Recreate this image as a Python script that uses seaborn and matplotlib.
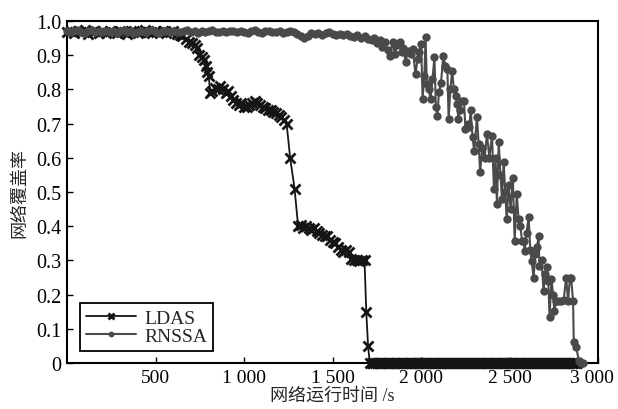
import matplotlib
matplotlib.use("Agg")
import matplotlib.pyplot as plt
import matplotlib.transforms as mtransforms
import pandas as pd
import seaborn as sns

# LDAS coverage vs run time
ldas_t = [0, 20, 40, 60, 80, 100, 120, 140, 160, 180, 200, 220, 240, 260, 280, 300,
          320, 340, 360, 380, 400, 420, 440, 460, 480, 500, 520, 540, 560, 580, 600, 620, 640,
          650, 670, 690, 705, 720, 735, 748, 762, 776, 786, 793, 800, 809, 820, 835, 850, 865,
          880, 895, 910, 925, 940, 955, 970, 985, 1000, 1015, 1030, 1045, 1060, 1075, 1090,
          1105, 1120, 1135, 1150, 1165, 1180, 1195, 1210, 1225, 1240, 1260, 1285, 1305, 1320,
          1335, 1350, 1365, 1380, 1395, 1410, 1425, 1440, 1455, 1470, 1485, 1500, 1515, 1530,
          1545, 1560, 1575, 1590, 1605, 1620, 1635, 1650, 1665, 1680, 1690, 1700, 1710,
          1720, 1730, 1740, 1750, 1760, 1770, 1780, 1790, 1800, 1810, 1820, 1830, 1840, 1850,
          1860, 1870, 1880, 1890, 1900, 1910, 1920, 1930, 1940, 1950, 1960, 1970, 1980, 1990,
          2000, 2010, 2020, 2030, 2040, 2050, 2060, 2070, 2080, 2090, 2100, 2110, 2120, 2130,
          2140, 2150, 2160, 2170, 2180, 2190, 2200, 2210, 2220, 2230, 2240, 2250, 2260, 2270,
          2280, 2290, 2300, 2310, 2320, 2330, 2340, 2350, 2360, 2370, 2380, 2390, 2400, 2410,
          2420, 2430, 2440, 2450, 2460, 2470, 2480, 2490, 2500, 2510, 2520, 2530, 2540, 2550,
          2560, 2570, 2580, 2590, 2600, 2610, 2620, 2630, 2640, 2650, 2660, 2670, 2680, 2690,
          2700, 2710, 2720, 2730, 2740, 2750, 2760, 2770, 2780, 2790, 2800, 2810, 2820, 2830,
          2840, 2850, 2860, 2870, 2880]
ldas_cov = [0.968, 0.972, 0.965, 0.970, 0.967, 0.973, 0.962, 0.969, 0.971, 0.966, 0.970,
            0.964, 0.972, 0.968, 0.965, 0.971, 0.969, 0.963, 0.970, 0.972, 0.966, 0.969,
            0.973, 0.967, 0.964, 0.970, 0.968, 0.972, 0.966, 0.969, 0.971, 0.962, 0.960,
            0.955, 0.948, 0.940, 0.935, 0.930, 0.920, 0.900, 0.895, 0.885, 0.870, 0.850,
            0.840, 0.790, 0.795, 0.805, 0.800, 0.810, 0.800, 0.790, 0.795, 0.780, 0.770,
            0.760, 0.755, 0.760, 0.750, 0.750, 0.755, 0.760, 0.765, 0.760, 0.755, 0.750,
            0.745, 0.740, 0.740, 0.735, 0.730, 0.725, 0.720, 0.710, 0.700, 0.600, 0.510,
            0.400, 0.405, 0.395, 0.400, 0.395, 0.390, 0.395, 0.385, 0.380, 0.375, 0.370,
            0.370, 0.360, 0.355, 0.350, 0.340, 0.330, 0.325, 0.330, 0.325, 0.305, 0.300,
            0.300, 0.298, 0.300, 0.300, 0.150, 0.050, 0.0] + [0.0] * 117

# RNSSA coverage vs run time
rnssa_t = [0, 20, 40, 60, 80, 100, 120, 140, 160, 180, 200, 220, 240, 260, 280, 300,
           320, 340, 360, 380, 400, 420, 440, 460, 480, 500, 520, 540, 560, 580, 600, 620,
           640, 660, 680, 700, 720, 740, 760, 780, 800, 820, 840, 860, 880, 900, 920, 940,
           960, 980, 1000, 1020, 1040, 1060, 1080, 1100, 1120, 1140, 1160, 1180, 1200, 1220,
           1240, 1260, 1280, 1300, 1320, 1340, 1360, 1380, 1400, 1420, 1440, 1460, 1480, 1500,
           1520, 1540, 1560, 1580, 1600, 1620, 1640, 1660, 1680, 1700,
           1720, 1735, 1750, 1765, 1780, 1795, 1810, 1822, 1839, 1850, 1865, 1878, 1890,
           1900, 1912, 1925, 1940, 1952, 1968, 1980, 1990, 2000, 2008, 2018, 2025, 2032,
           2042, 2053, 2064, 2075, 2083, 2092, 2100, 2112, 2125, 2136, 2148, 2155, 2165,
           2175, 2185, 2195, 2203, 2210, 2220, 2230, 2242, 2250, 2262, 2272, 2280, 2290,
           2300, 2315, 2325, 2333, 2345, 2358, 2372, 2385, 2400, 2411, 2420, 2428, 2438,
           2448, 2456, 2466, 2475, 2483, 2494, 2505, 2518, 2528, 2540, 2550, 2560, 2570,
           2578, 2585, 2595, 2607, 2616, 2624, 2635, 2645, 2655, 2663, 2668, 2680, 2691,
           2700, 2708, 2718, 2725, 2736, 2745, 2752, 2763, 2775, 2790, 2805, 2819, 2830,
           2840, 2847, 2858, 2862, 2875, 2892, 2905, 2915]
rnssa_cov = [0.972, 0.968, 0.970, 0.974, 0.969, 0.966, 0.971, 0.973, 0.968, 0.970, 0.967,
             0.972, 0.969, 0.971, 0.966, 0.970, 0.973, 0.968, 0.970, 0.965, 0.969, 0.972,
             0.967, 0.971, 0.974, 0.969, 0.966, 0.970, 0.972, 0.968, 0.971, 0.969, 0.967,
             0.970, 0.973, 0.969, 0.971, 0.966, 0.972, 0.968, 0.970, 0.974, 0.969, 0.967,
             0.971, 0.968, 0.972, 0.970, 0.968, 0.972, 0.969, 0.966, 0.971, 0.973, 0.968,
             0.965, 0.970, 0.972, 0.967, 0.969, 0.971, 0.966, 0.968, 0.970, 0.967, 0.963,
             0.955, 0.950, 0.955, 0.965, 0.962, 0.966, 0.960, 0.964, 0.968, 0.962, 0.959,
             0.963, 0.958, 0.961, 0.957, 0.952, 0.958, 0.950, 0.955, 0.948,
             0.945, 0.950, 0.935, 0.945, 0.925, 0.940, 0.915, 0.898, 0.938, 0.905, 0.930,
             0.938, 0.910, 0.920, 0.880, 0.912, 0.905, 0.918, 0.845, 0.890, 0.909, 0.933,
             0.772, 0.840, 0.953, 0.816, 0.800, 0.772, 0.830, 0.895, 0.749, 0.722, 0.792,
             0.820, 0.898, 0.870, 0.860, 0.713, 0.800, 0.854, 0.800, 0.780, 0.757, 0.713,
             0.740, 0.765, 0.766, 0.684, 0.700, 0.690, 0.740, 0.660, 0.620, 0.720, 0.640,
             0.558, 0.630, 0.600, 0.670, 0.600, 0.665, 0.510, 0.600, 0.465, 0.645, 0.550,
             0.480, 0.587, 0.500, 0.420, 0.520, 0.450, 0.540, 0.357, 0.495, 0.420, 0.400,
             0.357, 0.357, 0.327, 0.380, 0.427, 0.330, 0.298, 0.250, 0.320, 0.340, 0.371,
             0.284, 0.300, 0.210, 0.260, 0.280, 0.240, 0.135, 0.245, 0.200, 0.152, 0.180,
             0.180, 0.180, 0.185, 0.250, 0.180, 0.250, 0.250, 0.180, 0.060, 0.047, 0.005,
             0.0, 0.0]

x_ticks = [500, 1000, 1500, 2000, 2500, 3000]
x_tick_labels = ["500", "1 000", "1 500", "2 000", "2 500", "3 000"]
y_ticks = [0, 0.1, 0.2, 0.3, 0.4, 0.5, 0.6, 0.7, 0.8, 0.9, 1.0]
y_tick_labels = ["0", "0.1", "0.2", "0.3", "0.4", "0.5", "0.6", "0.7", "0.8", "0.9", "1.0"]

ldas_df = pd.DataFrame({"t": ldas_t, "cov": ldas_cov})
rnssa_df = pd.DataFrame({"t": rnssa_t, "cov": rnssa_cov})

sns.set_style("ticks")
plt.rcParams['font.family'] = ['Liberation Serif', 'Noto Sans CJK SC']

fig = plt.figure(figsize=(6.18, 4.10), dpi=100)
ax = fig.add_axes([0.1085, 0.1122, 0.8595, 0.834])

sns.lineplot(data=ldas_df, x="t", y="cov", ax=ax, color="#151515", lw=1.3,
             marker="x", markersize=6.5, markeredgewidth=2.0, markeredgecolor="#151515",
             estimator=None, sort=False, label="LDAS", clip_on=False, zorder=3)
sns.lineplot(data=rnssa_df, x="t", y="cov", ax=ax, color="#4a4a4a", lw=1.5,
             marker="o", markersize=6, markeredgewidth=0, estimator=None, sort=False,
             label="RNSSA", clip_on=False, zorder=4)

ax.set_xlim(0, 3000)
ax.set_ylim(0, 1.0)
ax.set_xticks(x_ticks)
ax.set_xticklabels(x_tick_labels)
ax.set_yticks(y_ticks)
ax.set_yticklabels(y_tick_labels)
ax.tick_params(direction="in", length=4, width=1, top=False, right=False,
               colors="black", pad=4)
ax.tick_params(axis="x", labelsize=14)
ax.tick_params(axis="y", labelsize=14.5)
for sp in ax.spines.values():
    sp.set_visible(True)
    sp.set_linewidth(1.5)
    sp.set_color("black")

# nudge the last x label so it stays inside the picture
last = ax.get_xticklabels()[-1]
last.set_transform(last.get_transform() +
                   mtransforms.ScaledTranslation(-6 / 100, 0, fig.dpi_scale_trans))

ax.set_xlabel("网络运行时间 /s", fontsize=13, labelpad=1)
ax.set_ylabel("网络覆盖率", fontsize=13, labelpad=6)

leg = ax.legend(loc="lower left", bbox_to_anchor=(0.024, 0.035), borderaxespad=0,
                fancybox=False, edgecolor="black", framealpha=1, fontsize=14,
                handlelength=2.6, handletextpad=0.4, labelspacing=0.05, borderpad=0.3,
                markerscale=0.7)
leg.get_frame().set_linewidth(1.3)
leg.set_zorder(5)

fig.savefig("out.png", dpi=100)
